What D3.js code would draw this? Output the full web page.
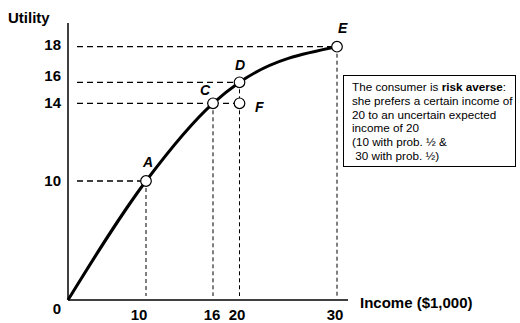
<!DOCTYPE html>
<html lang="en">
<head>
    <meta charset="UTF-8">
    <title>Risk aversion</title>
    <script src="https://cdn.jsdelivr.net/npm/d3@7"></script>
</head>
<style>
    body { margin: 0; background: #fff; }
    svg { font-family: Arial, "Liberation Sans", sans-serif; }
</style>
<body>
    <div id="graphDiv"></div>
    <script>
        // Chart data
        var incomeTicks = [10, 16, 20, 30]
        var utilityTicks = [10, 14, 16, 18]
        var curveIncome = [0, 10, 16, 20, 30]
        var curveUtility = [0, 10, 14, 16, 18]
        var pointNames = ["A", "C", "D", "F", "E"]
        var pointIncome = [10, 16, 20, 20, 30]
        var pointUtility = [10, 14, 16, 14, 18]
        var noteLines = [
            [["The consumer is ", false], ["risk averse", true], [":", false]],
            [["she prefers a certain income of", false]],
            [["20 to an uncertain expected", false]],
            [["income of 20", false]],
            [["(10 with prob. \u00bd &", false]],
            [[" 30 with prob. \u00bd)", false]]
        ]

        var width = 520
        var height = 323

        var svg = d3.select('#graphDiv')
                    .append('svg')
                    .attr('width', width)
                    .attr('height', height)

        // The sketch is not drawn to a linear scale, so use piecewise scales
        var x = d3.scaleLinear()
                  .domain([0, 10, 16, 20, 30])
                  .range([68, 146, 213, 239.5, 337])
        var y = d3.scaleLinear()
                  .domain([0, 10, 14, 16, 18])
                  .range([300, 181, 103.3, 82.3, 46.7])

        // Axes
        svg.append('line')
           .attr('x1', x(0)).attr('y1', 23)
           .attr('x2', x(0)).attr('y2', y(0))
           .attr('stroke', '#000').attr('stroke-width', 1.5)
        svg.append('line')
           .attr('x1', x(0)).attr('y1', y(0))
           .attr('x2', 348).attr('y2', y(0))
           .attr('stroke', '#000').attr('stroke-width', 1.5)

        // Guide lines
        var pts = pointNames.map((n, i) => ({ name: n, inc: pointIncome[i], util: pointUtility[i] }))
        var guides = pts.filter(d => d.name != 'F')
        svg.append('g').selectAll('line')
           .data(guides)
           .join('line')
           .attr('x1', 77).attr('x2', d => x(d.inc))
           .attr('y1', d => y(d.util)).attr('y2', d => y(d.util))
           .attr('stroke', '#000').attr('stroke-width', 1.3)
           .attr('stroke-dasharray', '6,4')
        svg.append('g').selectAll('line')
           .data(guides)
           .join('line')
           .attr('x1', d => x(d.inc)).attr('x2', d => x(d.inc))
           .attr('y1', d => y(d.util)).attr('y2', 296)
           .attr('stroke', '#000').attr('stroke-width', 1)
           .attr('stroke-dasharray', '4,3')
        // C to F horizontal segment
        svg.append('line')
           .attr('x1', x(16)).attr('x2', x(20))
           .attr('y1', y(14)).attr('y2', y(14))
           .attr('stroke', '#000').attr('stroke-width', 1.3)
           .attr('stroke-dasharray', '6,4')

        // Utility curve
        var curveData = curveIncome.map((v, i) => [v, curveUtility[i]])
        svg.append('path')
           .datum(curveData)
           .attr('d', d3.line().x(d => x(d[0])).y(d => y(d[1])).curve(d3.curveMonotoneX))
           .attr('fill', 'none')
           .attr('stroke', '#000')
           .attr('stroke-width', 3)

        // Points
        svg.append('g').selectAll('circle')
           .data(pts)
           .join('circle')
           .attr('cx', d => x(d.inc))
           .attr('cy', d => y(d.util))
           .attr('r', 5.3)
           .attr('fill', '#fff')
           .attr('stroke', '#000')
           .attr('stroke-width', 1.2)

        var labelOffset = { A: [-3, -14], C: [-13, -8], D: [-4.5, -12], F: [15.5, 9], E: [1, -13.5] }
        svg.append('g').selectAll('text')
           .data(pts)
           .join('text')
           .attr('x', d => x(d.inc) + labelOffset[d.name][0])
           .attr('y', d => y(d.util) + labelOffset[d.name][1])
           .attr('font-size', 14)
           .attr('font-weight', 'bold')
           .attr('font-style', 'italic')
           .text(d => d.name)

        // Tick labels
        svg.append('g').selectAll('text')
           .data(utilityTicks)
           .join('text')
           .attr('x', 61)
           .attr('y', (d, i) => y(d) + [5, 5, -1, 3][i])
           .attr('text-anchor', 'end')
           .attr('font-size', 15)
           .attr('font-weight', 'bold')
           .text(d => d)
        svg.append('g').selectAll('text')
           .data(incomeTicks)
           .join('text')
           .attr('x', (d, i) => x(d) + [-7, -1, -2.5, -2][i])
           .attr('y', 320)
           .attr('text-anchor', 'middle')
           .attr('font-size', 15)
           .attr('font-weight', 'bold')
           .text(d => d)
        svg.append('text')
           .attr('x', 57).attr('y', 314)
           .attr('text-anchor', 'middle')
           .attr('font-size', 15).attr('font-weight', 'bold')
           .text('0')

        // Axis titles
        svg.append('text')
           .attr('x', 8).attr('y', 23)
           .attr('font-size', 15).attr('font-weight', 'bold')
           .text('Utility')
        svg.append('text')
           .attr('x', 360).attr('y', 308)
           .attr('font-size', 15).attr('font-weight', 'bold')
           .text('Income ($1,000)')

        // Note box
        svg.append('rect')
           .attr('x', 343.5).attr('y', 75.5)
           .attr('width', 172).attr('height', 91)
           .attr('fill', '#fff')
           .attr('stroke', '#000')
           .attr('stroke-width', 1)
        var note = svg.append('text')
                      .attr('font-size', 11.7)
                      .attr('style', 'white-space: pre')
        noteLines.forEach((line, i) => {
            var t = note.append('tspan')
                        .attr('x', 352)
                        .attr('y', 91 + i * 13.8)
            line.forEach(part => {
                t.append('tspan')
                 .attr('font-weight', part[1] ? 'bold' : 'normal')
                 .text(part[0])
            })
        })
    </script>
</body>
</html>
